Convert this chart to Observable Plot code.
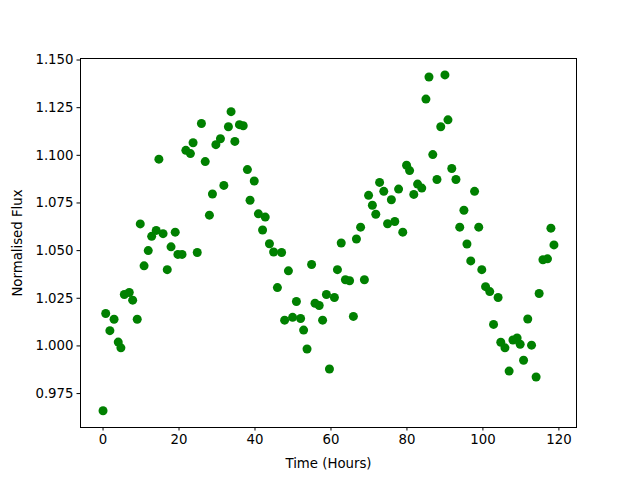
<!DOCTYPE html>
<html>
<head>
<meta charset="utf-8">
<script src="https://cdn.jsdelivr.net/npm/d3@7"></script>
<script src="https://cdn.jsdelivr.net/npm/@observablehq/plot@0.6"></script>
<style>
  html, body { margin: 0; padding: 0; background: #fff; }
  #chart { width: 640px; height: 480px; }
</style>
</head>
<body>
<div id="chart"></div>
<script>
const hours = [
  0, 0.7, 1.8, 2.9, 4, 4.7, 5.6, 6.9, 7.8, 9,
  9.8, 10.8, 11.9, 12.8, 14, 14.7, 15.8, 16.9, 17.9, 19,
  19.7, 20.8, 21.8, 23, 23.7, 24.8, 25.9, 26.9, 28, 28.8,
  29.7, 30.9, 31.8, 33, 33.7, 34.7, 35.9, 36.9, 38, 38.7,
  39.8, 40.9, 42, 42.7, 43.8, 44.9, 45.9, 47, 47.8, 48.8,
  49.9, 50.9, 52, 52.8, 53.7, 54.9, 55.8, 56.9, 57.8, 58.8,
  59.6, 60.9, 61.7, 62.7, 63.8, 64.9, 65.9, 66.7, 67.8, 68.8,
  69.9, 70.9, 71.8, 72.8, 73.9, 74.9, 75.9, 76.8, 77.8, 78.9,
  79.9, 80.7, 81.8, 82.8, 83.9, 85, 85.8, 86.8, 87.9, 88.9,
  90, 90.8, 91.8, 92.9, 93.9, 95, 95.8, 96.8, 97.8, 98.9,
  99.7, 100.7, 101.8, 102.8, 104, 104.7, 105.8, 106.9, 107.9, 109,
  109.8, 110.7, 111.8, 112.8, 114, 114.8, 115.8, 117, 117.9, 118.7
];
const flux = [
  0.966, 1.017, 1.008, 1.014, 1.002, 0.999, 1.027, 1.028, 1.024, 1.014,
  1.064, 1.042, 1.050, 1.0575, 1.0606, 1.098, 1.0589, 1.040, 1.052, 1.0597,
  1.048, 1.048, 1.1026, 1.1009, 1.1066, 1.049, 1.1167, 1.0967, 1.0686, 1.0797,
  1.1056, 1.1087, 1.0842, 1.115, 1.1229, 1.1073, 1.1161, 1.1155, 1.0925, 1.0764,
  1.0865, 1.0693, 1.0608, 1.0676, 1.0536, 1.0493, 1.0306, 1.049, 1.0135, 1.0394,
  1.015, 1.0233, 1.0144, 1.0083, 0.9984, 1.0427, 1.0224, 1.0212, 1.0135, 1.027,
  0.9879, 1.0254, 1.040, 1.054, 1.0347, 1.0342, 1.0155, 1.0561, 1.0623, 1.0347,
  1.079, 1.0738, 1.0691, 1.0858, 1.0811, 1.0641, 1.0767, 1.0653, 1.0823, 1.0597,
  1.0948, 1.092, 1.0795, 1.0849, 1.0828, 1.1295, 1.1411, 1.1004, 1.0873, 1.115,
  1.1422, 1.1186, 1.0931, 1.0873, 1.0623, 1.0712, 1.0535, 1.0446, 1.0811, 1.0623,
  1.040, 1.0311, 1.0285, 1.0113, 1.0254, 1.0019, 0.999, 0.9868, 1.0031, 1.0042,
  1.0009, 0.9925, 1.0141, 1.0004, 0.9837, 1.0275, 1.0452, 1.0457, 1.0618, 1.053
];
const xTicks = [0, 20, 40, 60, 80, 100, 120];
const yTicks = [0.975, 1.000, 1.025, 1.050, 1.075, 1.100, 1.125, 1.150];

const data = hours.map((h, i) => ({hour: h, flux: flux[i]}));

const chart = Plot.plot({
  width: 640,
  height: 480,
  marginLeft: 80,
  marginRight: 64,
  marginTop: 58,
  marginBottom: 53,
  style: {fontFamily: "DejaVu Sans", fontSize: "13.3px", color: "black", background: "white"},
  x: {domain: [-5.935, 124.635]},
  y: {domain: [0.9572, 1.1508]},
  marks: [
    Plot.dot(data, {x: "hour", y: "flux", r: 4.5, fill: "#008000", stroke: "none"}),
    Plot.frame({stroke: "black", strokeWidth: 1}),
    Plot.axisX({ticks: xTicks, tickSize: 3.5, tickPadding: 3.5, tickFormat: d3.format("d"),
      label: "Time (Hours)", labelAnchor: "center", labelArrow: "none", labelOffset: 40}),
    Plot.axisY({ticks: yTicks, tickSize: 3.5, tickPadding: 3.5, tickFormat: d3.format(".3f"),
      label: "Normalised Flux", labelAnchor: "center", labelArrow: "none", labelOffset: 68})
  ]
});
document.getElementById("chart").appendChild(chart);
</script>
</body>
</html>
